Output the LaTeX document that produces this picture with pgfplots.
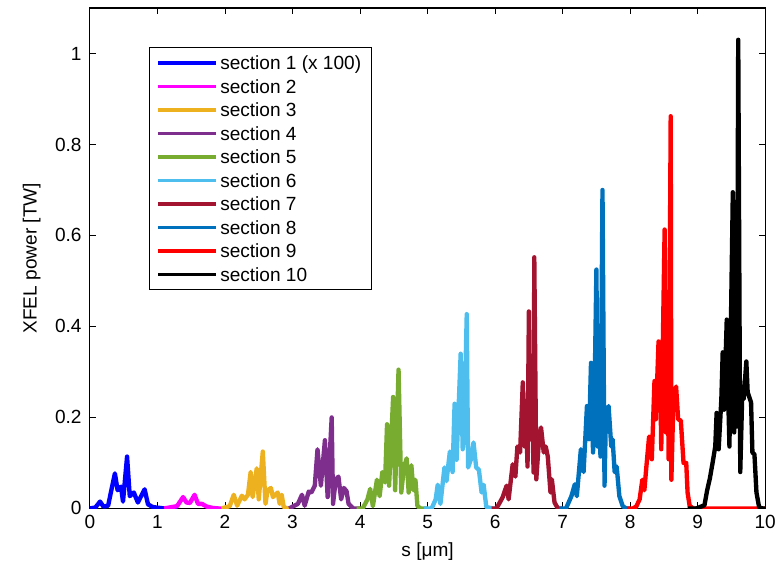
\documentclass[border=0pt]{standalone}
\usepackage{fontspec}
\setmainfont{Liberation Sans}
\usepackage{pgfplots}
\pgfplotsset{compat=1.18}
\definecolor{c1}{RGB}{0,0,255}
\definecolor{c2}{RGB}{255,0,255}
\definecolor{c3}{RGB}{237,177,32}
\definecolor{c4}{RGB}{126,47,142}
\definecolor{c5}{RGB}{119,172,48}
\definecolor{c6}{RGB}{77,190,238}
\definecolor{c7}{RGB}{162,20,47}
\definecolor{c8}{RGB}{0,114,189}
\definecolor{c9}{RGB}{255,0,0}
\definecolor{c10}{RGB}{0,0,0}
\begin{document}
\begin{tikzpicture}
\begin{axis}[
  scale only axis, width=365pt, height=270.5pt,
  xmin=0, xmax=10, ymin=0, ymax=1.1,
  xtick={0,1,...,10}, ytick={0,0.2,0.4,0.6,0.8,1},
  tick align=inside, major tick length=3.5pt,
  tick style={black, line width=0.5pt},
  axis line style={line width=0.6pt},
  /pgf/number format/assume math mode=true,
  ticklabel style={font=\fontsize{10.3}{12}\selectfont},
  yticklabel style={xshift=-1pt},
  xlabel={s [μm]}, ylabel={XFEL power [TW]},
  label style={font=\fontsize{10.3}{12}\selectfont},
  xlabel style={yshift=-1pt},
  ylabel style={yshift=1pt},
  every axis plot/.append style={line width=2.35pt, line join=round},
  legend cell align=left,
  legend image code/.code={\draw[#1, line width=1.8pt] (0pt,0pt) -- (31pt,0pt);},
  legend style={at={(0.087,0.922)}, anchor=north west, draw=black, line width=0.6pt,
    font=\fontsize{10.3}{12}\selectfont, inner xsep=4pt, inner ysep=2pt,
    nodes={text height=8.7pt, text depth=1.3pt, inner ysep=1.35pt, inner xsep=1.6pt}},
]
\addplot[c1] coordinates {(0,0) (0.08,0.002) (0.15,0.015) (0.2,0.004) (0.27,0.006) (0.31,0.035) (0.37,0.077) (0.41,0.04) (0.46,0.048) (0.49,0.015) (0.55,0.114) (0.59,0.027) (0.65,0.035) (0.71,0.013) (0.81,0.042) (0.86,0.009) (0.93,0.003) (1.1,0) (1.3,0)};
\addplot[c2] coordinates {(1.1,0) (1.29,0.005) (1.38,0.025) (1.43,0.013) (1.48,0.012) (1.55,0.03) (1.6,0.01) (1.66,0.01) (1.73,0.004) (1.82,0.001) (1.9,0) (2.0,0)};
\addplot[c3] coordinates {(1.95,0) (2.07,0.005) (2.13,0.03) (2.18,0.006) (2.25,0.028) (2.29,0.02) (2.34,0.03) (2.38,0.08) (2.41,0.025) (2.47,0.088) (2.5,0.02) (2.56,0.125) (2.6,0.01) (2.63,0.04) (2.68,0.045) (2.71,0.025) (2.78,0.035) (2.81,0.01) (2.84,0.03) (2.87,0.003) (2.93,0) (3.0,0)};
\addplot[c4] coordinates {(2.95,0) (3.08,0.01) (3.14,0.03) (3.18,0.006) (3.24,0.037) (3.28,0.035) (3.33,0.05) (3.37,0.13) (3.42,0.05) (3.48,0.15) (3.52,0.025) (3.58,0.2) (3.6,0.01) (3.64,0.063) (3.68,0.07) (3.72,0.02) (3.76,0.045) (3.8,0.038) (3.83,0.01) (3.9,0) (4.0,0)};
\addplot[c5] coordinates {(3.95,0) (4.04,0) (4.11,0.02) (4.15,0.043) (4.19,0.005) (4.25,0.063) (4.29,0.027) (4.33,0.08) (4.37,0.057) (4.4,0.185) (4.43,0.05) (4.49,0.245) (4.52,0.04) (4.57,0.305) (4.61,0.035) (4.65,0.09) (4.69,0.11) (4.72,0.035) (4.76,0.095) (4.79,0.04) (4.82,0.063) (4.85,0.005) (4.9,0) (5.0,0)};
\addplot[c6] coordinates {(4.95,0) (5.06,0) (5.12,0.02) (5.15,0.052) (5.19,0.01) (5.25,0.09) (5.28,0.06) (5.33,0.125) (5.37,0.08) (5.4,0.23) (5.43,0.107) (5.49,0.34) (5.52,0.13) (5.54,0.165) (5.58,0.427) (5.6,0.09) (5.64,0.107) (5.68,0.145) (5.72,0.09) (5.76,0.085) (5.8,0.035) (5.83,0.052) (5.87,0.003) (5.96,0) (6.0,0)};
\addplot[c7] coordinates {(5.95,0) (6.02,0) (6.11,0.024) (6.17,0.05) (6.2,0.02) (6.26,0.097) (6.3,0.07) (6.33,0.136) (6.37,0.123) (6.41,0.277) (6.44,0.136) (6.46,0.2) (6.48,0.092) (6.5,0.433) (6.52,0.152) (6.55,0.211) (6.57,0.079) (6.58,0.552) (6.61,0.064) (6.65,0.152) (6.68,0.178) (6.72,0.123) (6.75,0.136) (6.78,0.114) (6.82,0.035) (6.84,0.064) (6.88,0.013) (6.93,0) (7.0,0)};
\addplot[c8] coordinates {(6.95,0) (7.05,0) (7.13,0.027) (7.18,0.053) (7.21,0.027) (7.27,0.13) (7.31,0.08) (7.36,0.225) (7.39,0.152) (7.42,0.32) (7.45,0.123) (7.47,0.225) (7.5,0.525) (7.52,0.136) (7.54,0.255) (7.56,0.114) (7.59,0.70) (7.62,0.05) (7.64,0.196) (7.68,0.225) (7.72,0.136) (7.74,0.152) (7.77,0.08) (7.8,0.092) (7.84,0.027) (7.89,0.005) (7.94,0) (8.0,0)};
\addplot[c9] coordinates {(7.95,0) (8.04,0) (8.09,0.004) (8.14,0.02) (8.18,0.063) (8.21,0.04) (8.24,0.092) (8.28,0.158) (8.32,0.108) (8.36,0.28) (8.38,0.196) (8.42,0.367) (8.45,0.24) (8.46,0.13) (8.48,0.327) (8.51,0.613) (8.53,0.167) (8.55,0.387) (8.57,0.108) (8.6,0.862) (8.61,0.063) (8.64,0.24) (8.68,0.268) (8.71,0.196) (8.75,0.193) (8.79,0.1) (8.83,0.1) (8.85,0.035) (8.88,0.006) (8.93,0) (10,0)};
\addplot[c10] coordinates {(8.85,0) (8.98,0) (9.1,0.007) (9.14,0.04) (9.18,0.066) (9.22,0.1) (9.26,0.136) (9.28,0.21) (9.31,0.13) (9.35,0.24) (9.37,0.343) (9.39,0.217) (9.43,0.415) (9.45,0.255) (9.47,0.136) (9.49,0.387) (9.52,0.695) (9.54,0.167) (9.56,0.488) (9.58,0.18) (9.6,1.03) (9.63,0.08) (9.66,0.255) (9.68,0.24) (9.72,0.323) (9.74,0.255) (9.79,0.233) (9.81,0.123) (9.84,0.119) (9.87,0.035) (9.91,0.002) (9.96,0) (10,0)};
\legend{section 1 (x 100),section 2,section 3,section 4,section 5,section 6,section 7,section 8,section 9,section 10}
\end{axis}
\path ([xshift=-48.6pt,yshift=-32.4pt]current axis.south west) rectangle ([xshift=8.6pt,yshift=4.3pt]current axis.north east);
\end{tikzpicture}
\end{document}
